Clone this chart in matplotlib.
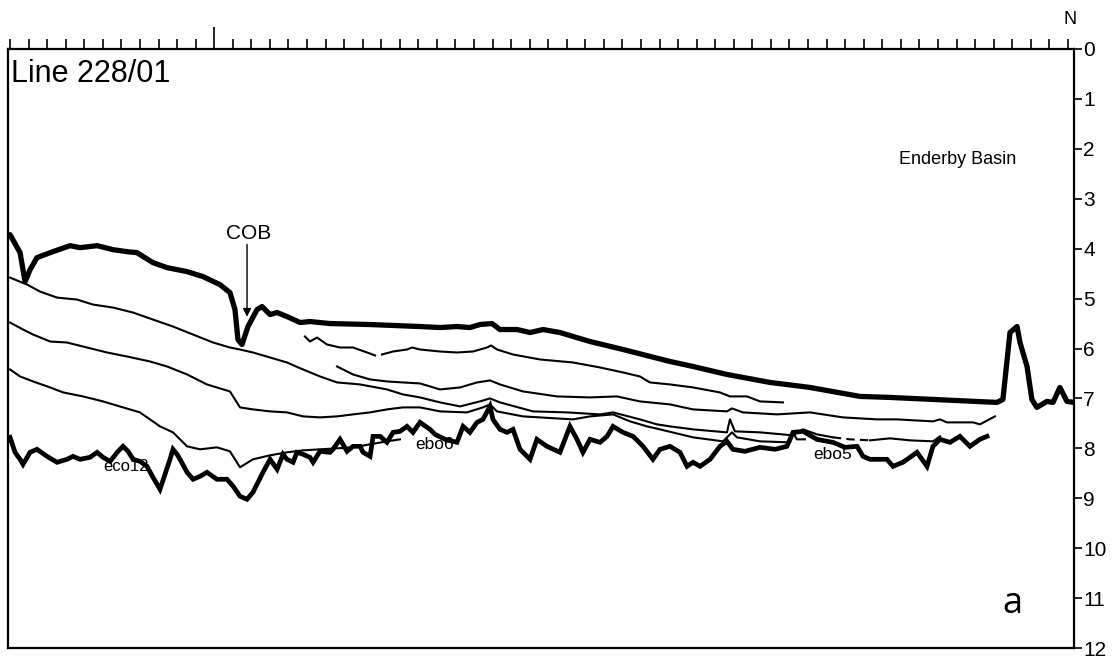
"""Line drawing of seismic line 228/01 (Enderby Basin)."""

import matplotlib

matplotlib.use("Agg")
import matplotlib.pyplot as plt

plt.rcParams["font.family"] = ["Liberation Sans", "DejaVu Sans"]

# distance along line in tick units, depth in s TWT
SEAFLOOR_X = [0, 0.54, 0.81, 1.08, 1.45, 2.16, 3.23, 3.77, 4.69, 5.55,
              6.30, 6.84, 7.70, 8.46, 9.54, 10.40, 11.31, 11.85, 12.12, 12.28,
              12.50, 12.82, 13.31, 13.58, 14.01, 14.39, 14.92, 15.63, 16.16, 17.24,
              19.40, 22.09, 23.17, 24.08, 24.78, 25.32, 25.97, 26.40, 27.32, 28.02,
              28.72, 29.63, 31.25, 33.03, 35.56, 36.80, 38.63, 40.95, 43.10, 45.80,
              47.41, 53.18, 53.50, 53.88, 54.26, 54.42, 54.80, 55.06, 55.33, 55.87,
              56.20, 56.57, 56.95, 57.33]
SEAFLOOR_Y = [3.72, 4.08, 4.66, 4.42, 4.18, 4.08, 3.94, 3.98, 3.94, 4.02,
              4.06, 4.08, 4.28, 4.38, 4.46, 4.56, 4.72, 4.88, 5.22, 5.82,
              5.92, 5.56, 5.22, 5.16, 5.32, 5.28, 5.36, 5.48, 5.46, 5.50,
              5.52, 5.56, 5.58, 5.56, 5.58, 5.52, 5.50, 5.62, 5.62, 5.68,
              5.62, 5.68, 5.86, 6.02, 6.26, 6.36, 6.52, 6.68, 6.78, 6.96,
              6.98, 7.08, 7.02, 5.68, 5.56, 5.88, 6.36, 7.02, 7.18, 7.06,
              7.08, 6.78, 7.06, 7.08]

H1A_X = [15.89, 16.16, 16.54, 17.08, 17.78, 18.48, 19.24, 19.67]
H1A_Y = [5.76, 5.86, 5.78, 5.92, 5.98, 5.98, 6.08, 6.14]
H1B_X = [20.04, 20.64, 21.39, 21.66, 22.09, 23.17, 24.08, 24.95, 25.70, 25.92,
         26.24, 27.10, 28.56, 30.33, 31.79, 33.03, 33.94, 34.48, 35.56, 36.80,
         38.25, 38.79, 39.71, 40.41, 41.65]
H1B_Y = [6.12, 6.06, 6.02, 5.98, 6.02, 6.06, 6.08, 6.06, 5.98, 5.94,
         6.02, 6.12, 6.22, 6.28, 6.38, 6.48, 6.56, 6.68, 6.72, 6.78,
         6.88, 6.96, 6.96, 7.06, 7.08]

H2_X = [17.62, 18.48, 19.40, 20.31, 21.17, 22.09, 23.17, 24.25, 25.16, 25.86,
        26.40, 27.64, 29.47, 31.25, 32.70, 33.94, 35.56, 36.80, 38.63, 38.90,
        39.49, 41.33, 43.10, 44.88, 46.71, 47.79, 49.73, 50.11, 50.48, 51.89,
        52.26, 53.07]
H2_Y = [6.36, 6.52, 6.62, 6.66, 6.68, 6.70, 6.82, 6.78, 6.68, 6.64,
        6.72, 6.86, 6.96, 6.98, 6.96, 7.06, 7.12, 7.22, 7.26, 7.20,
        7.28, 7.32, 7.28, 7.38, 7.42, 7.42, 7.46, 7.42, 7.48, 7.48,
        7.52, 7.36]

H3_X = [0, 0.92, 1.62, 2.53, 3.61, 4.47, 5.55, 6.63, 7.70, 8.78,
        9.86, 10.94, 11.85, 12.39, 13.09, 14.01, 14.92, 15.79, 16.70, 17.62,
        18.86, 20.31, 21.17, 22.09, 23.17, 24.25, 25.32, 25.86, 26.40, 28.18,
        30.01, 31.79, 32.49, 33.94, 34.86, 35.56, 36.80, 38.63, 38.79, 39.06,
        40.41, 42.19, 42.73, 43.48, 44.34]
H3_Y = [4.58, 4.72, 4.86, 4.98, 5.02, 5.12, 5.18, 5.28, 5.42, 5.56,
        5.72, 5.88, 5.98, 6.02, 6.08, 6.18, 6.28, 6.42, 6.56, 6.68,
        6.72, 6.82, 6.92, 6.98, 7.08, 7.16, 7.06, 7.00, 7.08, 7.26,
        7.28, 7.32, 7.28, 7.42, 7.52, 7.56, 7.62, 7.68, 7.42, 7.66,
        7.68, 7.74, 7.62, 7.72, 7.78]
H3_DASH_X = [44.34, 45.26, 46.34]
H3_DASH_Y = [7.78, 7.82, 7.84]
H3_EAST_X = [46.34, 47.41, 48.49, 49.73, 50.11]
H3_EAST_Y = [7.84, 7.80, 7.84, 7.86, 7.76]

H4_X = [0, 0.70, 1.24, 2.16, 3.07, 3.93, 5.23, 6.30, 7.54, 8.46,
        9.54, 10.61, 11.85, 12.39, 13.09, 14.01, 14.92, 15.79, 16.70, 17.62,
        18.48, 19.40, 20.31, 21.17, 22.09, 23.17, 24.62, 25.48, 25.86, 26.24,
        27.64, 30.33, 31.25, 32.49, 33.41, 34.32, 35.02, 36.80, 38.42, 38.90,
        39.17, 40.41, 42.03, 42.19, 42.40, 42.83]
H4_Y = [5.48, 5.62, 5.72, 5.86, 5.88, 5.96, 6.08, 6.16, 6.26, 6.36,
        6.52, 6.72, 6.86, 7.18, 7.22, 7.26, 7.28, 7.36, 7.38, 7.36,
        7.32, 7.28, 7.22, 7.18, 7.18, 7.26, 7.28, 7.18, 7.12, 7.26,
        7.36, 7.42, 7.36, 7.32, 7.46, 7.56, 7.62, 7.78, 7.86, 7.68,
        7.78, 7.86, 7.88, 7.68, 7.82, 7.82]

H5_X = [0, 0.54, 1.24, 2.16, 2.86, 3.93, 5.01, 6.09, 7.00, 8.08,
        8.78, 9.54, 10.24, 11.15, 11.85, 12.39, 13.09, 14.01, 14.92, 15.79,
        16.70, 18.48, 20.31, 21.01]
H5_Y = [6.42, 6.56, 6.66, 6.78, 6.88, 6.96, 7.06, 7.18, 7.28, 7.56,
        7.68, 7.96, 8.02, 7.98, 8.06, 8.38, 8.22, 8.14, 8.08, 8.04,
        8.02, 7.98, 7.86, 7.82]

BASEMENT_X = [0, 0.27, 0.54, 0.70, 1.08, 1.45, 1.99, 2.53, 3.07, 3.39,
              3.77, 4.31, 4.69, 5.01, 5.39, 5.82, 6.09, 6.36, 6.63, 7.00,
              7.38, 7.70, 8.08, 8.35, 8.62, 8.78, 9.00, 9.16, 9.54, 9.86,
              10.24, 10.61, 11.15, 11.69, 12.02, 12.39, 12.77, 13.09, 13.63, 14.01,
              14.39, 14.71, 14.92, 15.25, 15.46, 15.79, 16.16, 16.33, 16.70, 17.24,
              17.40, 17.78, 18.16, 18.48, 18.86, 19.02, 19.40, 19.56, 19.94, 20.31,
              20.64, 21.01, 21.39, 21.71, 22.09, 22.63, 22.90, 23.44, 24.08, 24.41,
              24.78, 25.16, 25.48, 25.86, 26.02, 26.40, 26.78, 27.10, 27.48, 28.02,
              28.39, 28.93, 29.63, 30.17, 30.55, 30.87, 31.25, 31.79, 32.17, 32.49,
              33.03, 33.57, 34.11, 34.64, 35.02, 35.56, 36.10, 36.48, 36.80, 37.18,
              37.72, 38.25, 38.63, 38.95, 39.60, 40.41, 41.22, 41.86, 42.19, 42.73,
              43.48, 44.34, 44.99, 45.64, 45.96, 46.34, 47.25, 47.58, 48.11, 48.87,
              49.41, 49.73, 50.11, 50.65, 51.18, 51.72, 52.26, 52.64]
BASEMENT_Y = [7.78, 8.08, 8.22, 8.32, 8.08, 8.02, 8.16, 8.28, 8.22, 8.16,
              8.22, 8.18, 8.08, 8.18, 8.26, 8.06, 7.96, 8.06, 8.22, 8.26,
              8.36, 8.58, 8.82, 8.52, 8.22, 8.02, 8.12, 8.22, 8.48, 8.62,
              8.56, 8.48, 8.62, 8.62, 8.76, 8.96, 9.02, 8.88, 8.48, 8.22,
              8.42, 8.12, 8.22, 8.28, 8.08, 8.12, 8.18, 8.28, 8.06, 8.08,
              8.02, 7.82, 8.06, 7.96, 7.96, 8.08, 8.16, 7.76, 7.76, 7.88,
              7.68, 7.66, 7.56, 7.68, 7.48, 7.62, 7.72, 7.82, 7.88, 7.56,
              7.68, 7.48, 7.42, 7.16, 7.42, 7.62, 7.68, 7.62, 8.02, 8.22,
              7.82, 7.96, 8.08, 7.56, 7.82, 8.08, 7.82, 7.88, 7.76, 7.56,
              7.68, 7.76, 7.96, 8.22, 8.02, 7.96, 8.08, 8.36, 8.28, 8.36,
              8.22, 7.96, 7.86, 8.02, 8.06, 7.98, 8.02, 7.96, 7.68, 7.66,
              7.82, 7.88, 7.98, 7.96, 8.16, 8.22, 8.22, 8.36, 8.28, 8.08,
              8.36, 7.96, 7.82, 7.88, 7.76, 7.96, 7.82, 7.76]

DEPTH_TICKS = list(range(0, 13))
DIST_TICKS = list(range(0, 58))
MAJOR_DIST_TICK = [11]

LABELS = [  # (text, x, y, size)
    ("eco12", 5.01, 8.36, 12),
    ("ebo6", 21.82, 7.92, 12.5),
    ("ebo5", 43.27, 8.12, 12.5),
]


def main() -> None:
    fig = plt.figure(figsize=(11.14, 6.59), dpi=100)
    ax = fig.add_axes([8 / 1114, 1 - 648 / 659, 1066 / 1114, 599 / 659])

    ax.plot(SEAFLOOR_X, SEAFLOOR_Y, color="black", lw=3.8, solid_capstyle="round")
    ax.plot(BASEMENT_X, BASEMENT_Y, color="black", lw=3.4, solid_joinstyle="miter")
    thin = dict(color="black", lw=1.5)
    ax.plot(H1A_X, H1A_Y, **thin)
    ax.plot(H1B_X, H1B_Y, **thin)
    ax.plot(H2_X, H2_Y, **thin)
    ax.plot(H3_X, H3_Y, **thin)
    ax.plot(H3_DASH_X, H3_DASH_Y, ls=(0, (4, 2.5)), **thin)
    ax.plot(H3_EAST_X, H3_EAST_Y, **thin)
    ax.plot(H4_X, H4_Y, **thin)
    ax.plot(H5_X, H5_Y, **thin)

    ax.set_xlim(-0.11, 57.33)
    ax.set_ylim(12, 0)

    # distance ticks along the top, depth scale on the right
    ax.xaxis.tick_top()
    ax.set_xticks(MAJOR_DIST_TICK)
    ax.set_xticks(DIST_TICKS, minor=True)
    ax.set_xticklabels([])
    ax.tick_params(axis="x", which="major", length=16, width=1.2, direction="out")
    ax.tick_params(axis="x", which="minor", length=7, width=1.2, direction="out")
    ax.yaxis.tick_right()
    ax.set_yticks(DEPTH_TICKS)
    ax.set_yticklabels([str(t) for t in DEPTH_TICKS])
    ax.tick_params(axis="y", length=6, width=1.2, pad=0.5, labelsize=15)
    for side in ("left", "right", "top", "bottom"):
        ax.spines[side].set_linewidth(1.6)

    ax.text(0.05, 0.5, "Line 228/01", fontsize=22, ha="left", va="center")
    ax.text(51.08, 2.22, "Enderby Basin", fontsize=13, ha="center", va="center")
    ax.text(57.11, -0.6, "N", fontsize=13, ha="center", va="center", clip_on=False)
    ax.annotate("", xy=(12.77, 5.42), xytext=(12.77, 3.86),
                arrowprops=dict(arrowstyle="-|>", color="black", lw=1.0,
                                mutation_scale=12))
    ax.text(12.88, 3.70, "COB", fontsize=15, ha="center", va="center")
    for text, x, y, size in LABELS:
        ax.text(x, y, text, fontsize=size, ha="left", va="center")
    ax.text(54.0, 11.12, "a", fontsize=26, ha="center", va="center",
            family=["Open Sans", "DejaVu Sans"])

    fig.savefig("out.png", dpi=100)
    plt.close(fig)


if __name__ == "__main__":
    main()
